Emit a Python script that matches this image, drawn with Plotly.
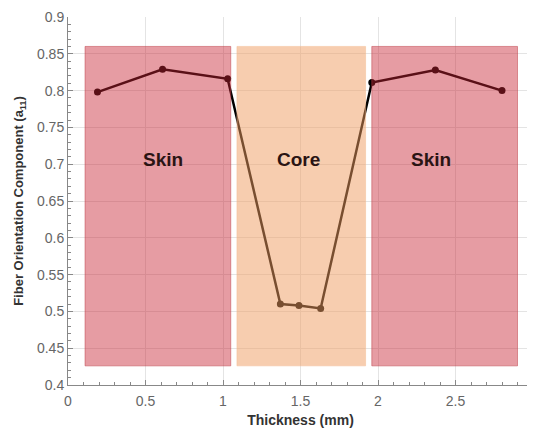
import plotly.graph_objects as go

thickness = [0.19, 0.61, 1.03, 1.37, 1.49, 1.63, 1.96, 2.37, 2.80]
a11 = [0.798, 0.829, 0.816, 0.510, 0.508, 0.504, 0.811, 0.828, 0.800]

regions = ["Skin", "Core", "Skin"]
region_x0 = [0.11, 1.09, 1.96]
region_x1 = [1.05, 1.92, 2.90]
region_y0 = 0.426
region_y1 = 0.860
region_label_x = [0.61, 1.49, 2.34]
region_label_y = 0.706
region_fill = ["rgba(200,35,50,0.45)", "rgba(240,155,95,0.5)", "rgba(200,35,50,0.45)"]
region_line = ["rgba(190,60,70,0.5)", "rgba(245,190,150,0.5)", "rgba(190,60,70,0.5)"]

fig = go.Figure()
fig.add_trace(go.Scatter(x=thickness, y=a11, mode="lines+markers",
                         line=dict(color="black", width=2.5),
                         marker=dict(color="black", size=7),
                         showlegend=False, cliponaxis=False))

for name, x0, x1, fc, lc, lx in zip(regions, region_x0, region_x1, region_fill, region_line, region_label_x):
    fig.add_shape(type="rect", x0=x0, x1=x1, y0=region_y0, y1=region_y1,
                  fillcolor=fc, line=dict(color=lc, width=1), layer="above")
    fig.add_annotation(x=lx, y=region_label_y, text="<b>%s</b>" % name, showarrow=False,
                       font=dict(family="Liberation Sans, Arial", size=19, color="#2a1414"))

axis_common = dict(showgrid=True, gridcolor="#e4e4e4", gridwidth=1,
                   showline=True, linecolor="#888", linewidth=1,
                   ticks="inside", ticklen=5, tickcolor="#888",
                   tickfont=dict(family="Liberation Sans, Arial", size=14, color="#666"),
                   zeroline=False, automargin=False, ticklabeloverflow="allow")

fig.update_layout(
    width=527, height=421,
    margin=dict(l=60, r=2, t=9, b=44),
    paper_bgcolor="white", plot_bgcolor="white",
    xaxis=dict(range=[0, 3], tickvals=[0, 0.5, 1, 1.5, 2, 2.5, 3],
               ticktext=["0", "0.5", "1", "1.5", "2", "2.5", "3"],
               minor=dict(dtick=0.1, ticks="inside", ticklen=3, tickcolor="#888", showgrid=False),
               ticklabelstandoff=3,
               title=dict(text="<b>Thickness (mm)</b>", standoff=7,
                          font=dict(family="Liberation Sans, Arial", size=14, color="#333")),
               **axis_common),
    yaxis=dict(range=[0.4, 0.9], tickvals=[0.4, 0.45, 0.5, 0.55, 0.6, 0.65, 0.7, 0.75, 0.8, 0.85, 0.9],
               ticktext=["0.4", "0.45", "0.5", "0.55", "0.6", "0.65", "0.7", "0.75", "0.8", "0.85", "0.9"],
               minor=dict(dtick=0.01, ticks="inside", ticklen=3, tickcolor="#888", showgrid=False),
               title=dict(text="<b>Fiber Orientation Component (a<sub>11</sub>)</b>", standoff=10,
                          font=dict(family="Liberation Sans, Arial", size=13, color="#333")),
               **axis_common),
)

fig.write_html("out.html")
